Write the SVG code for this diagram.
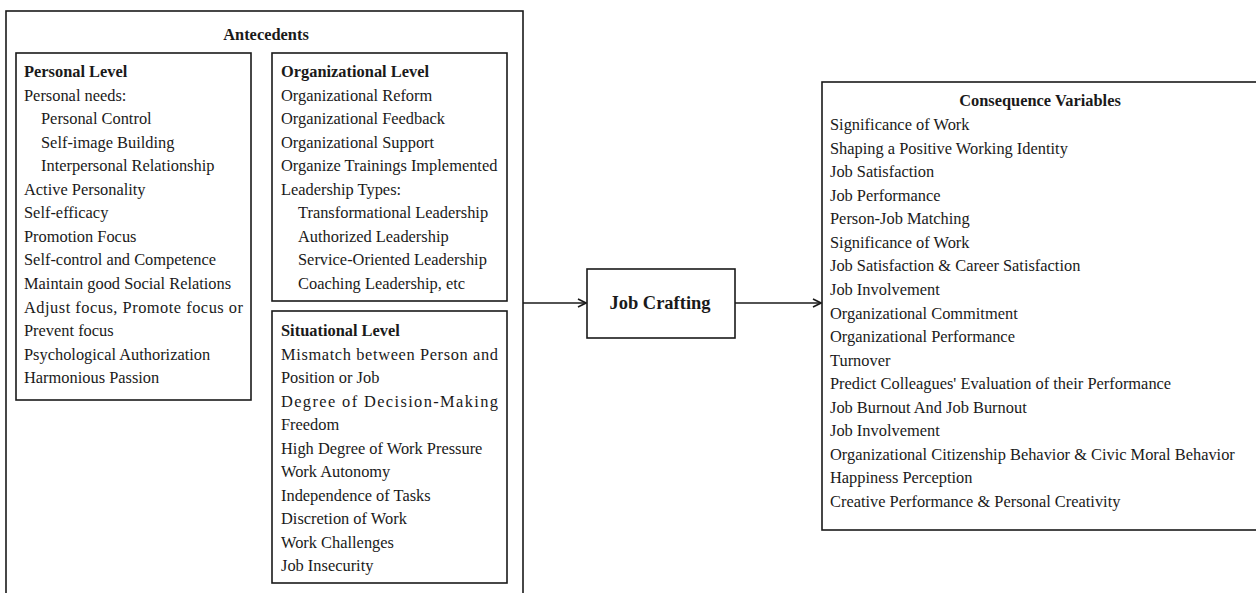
<svg xmlns="http://www.w3.org/2000/svg" width="1256" height="593" viewBox="0 0 1256 593">
<style>
text{font-family:"Liberation Serif","Times New Roman",serif;font-size:16.4px;fill:#1a1a1a}
.b{font-weight:bold}
.c{text-anchor:middle}
.box{fill:none;stroke:#1a1a1a;stroke-width:1.6}
.ln{stroke:#1a1a1a;stroke-width:1.6;fill:none}
</style>
<defs>
<marker id="ah" viewBox="0 0 10 10" refX="9" refY="5" markerWidth="10" markerHeight="10" markerUnits="userSpaceOnUse" orient="auto">
<path d="M1,1 L9,5 L1,9" fill="none" stroke="#1a1a1a" stroke-width="1.6"/>
</marker>
</defs>
<rect width="1256" height="593" fill="#fff"/>
<g id="antecedents">
<rect class="box" x="6" y="11" width="517" height="600"/>
<text class="b c" x="266" y="40">Antecedents</text>
</g>
<g id="personal-level">
<rect class="box" x="16" y="53" width="235" height="347"/>
<text class="b" x="24" y="77">Personal Level</text>
<text x="24" y="100.5">Personal needs:</text>
<text x="41" y="124">Personal Control</text>
<text x="41" y="147.5">Self-image Building</text>
<text x="41" y="171">Interpersonal Relationship</text>
<text x="24" y="194.5">Active Personality</text>
<text x="24" y="218">Self-efficacy</text>
<text x="24" y="241.5">Promotion Focus</text>
<text x="24" y="265">Self-control and Competence</text>
<text x="24" y="289">Maintain good Social Relations</text>
<text x="24" y="312.5" textLength="219" lengthAdjust="spacing">Adjust focus, Promote focus or</text>
<text x="24" y="336">Prevent focus</text>
<text x="24" y="359.5">Psychological Authorization</text>
<text x="24" y="383">Harmonious Passion</text>
</g>
<g id="organizational-level">
<rect class="box" x="272" y="53" width="235" height="248"/>
<text class="b" x="281" y="77">Organizational Level</text>
<text x="281" y="100.5">Organizational Reform</text>
<text x="281" y="124">Organizational Feedback</text>
<text x="281" y="147.5">Organizational Support</text>
<text x="281" y="171">Organize Trainings Implemented</text>
<text x="281" y="194.5">Leadership Types:</text>
<text x="298" y="218">Transformational Leadership</text>
<text x="298" y="241.5">Authorized Leadership</text>
<text x="298" y="265">Service-Oriented Leadership</text>
<text x="298" y="289">Coaching Leadership, etc</text>
</g>
<g id="situational-level">
<rect class="box" x="272" y="311" width="235" height="272"/>
<text class="b" x="281" y="336">Situational Level</text>
<text x="281" y="359.5" textLength="217" lengthAdjust="spacing">Mismatch between Person and</text>
<text x="281" y="383">Position or Job</text>
<text x="281" y="406.5" textLength="217" lengthAdjust="spacing">Degree of Decision-Making</text>
<text x="281" y="430">Freedom</text>
<text x="281" y="453.5">High Degree of Work Pressure</text>
<text x="281" y="477">Work Autonomy</text>
<text x="281" y="500.5">Independence of Tasks</text>
<text x="281" y="524">Discretion of Work</text>
<text x="281" y="547.5">Work Challenges</text>
<text x="281" y="571">Job Insecurity</text>
</g>
<g id="job-crafting">
<rect class="box" x="587" y="269" width="148" height="69"/>
<text class="b c" x="660" y="309" style="font-size:18.5px">Job Crafting</text>
</g>
<g id="consequence-variables">
<rect class="box" x="822" y="82" width="450" height="448"/>
<text class="b c" x="1040" y="106">Consequence Variables</text>
<text x="830" y="130">Significance of Work</text>
<text x="830" y="153.5">Shaping a Positive Working Identity</text>
<text x="830" y="177">Job Satisfaction</text>
<text x="830" y="200.5">Job Performance</text>
<text x="830" y="224">Person-Job Matching</text>
<text x="830" y="247.5">Significance of Work</text>
<text x="830" y="271">Job Satisfaction &amp; Career Satisfaction</text>
<text x="830" y="295">Job Involvement</text>
<text x="830" y="318.5">Organizational Commitment</text>
<text x="830" y="342">Organizational Performance</text>
<text x="830" y="365.5">Turnover</text>
<text x="830" y="389">Predict Colleagues' Evaluation of their Performance</text>
<text x="830" y="412.5">Job Burnout And Job Burnout</text>
<text x="830" y="436">Job Involvement</text>
<text x="830" y="459.5">Organizational Citizenship Behavior &amp; Civic Moral Behavior</text>
<text x="830" y="483">Happiness Perception</text>
<text x="830" y="506.5">Creative Performance &amp; Personal Creativity</text>
</g>
<g id="connectors">
<line class="ln" x1="523" y1="303" x2="586" y2="303" marker-end="url(#ah)"/>
<line class="ln" x1="735" y1="303" x2="821" y2="303" marker-end="url(#ah)"/>
</g>
</svg>
